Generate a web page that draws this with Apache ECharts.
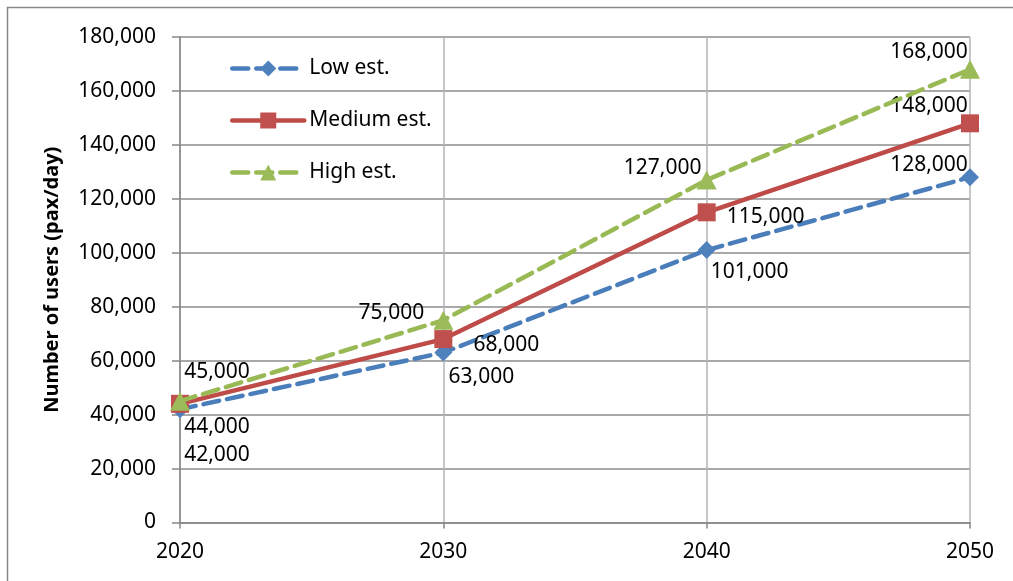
<!DOCTYPE html>
<html>
<head>
<meta charset="utf-8">
<script src="https://cdn.jsdelivr.net/npm/echarts@6/dist/echarts.min.js"></script>
<style>
  html, body { margin: 0; padding: 0; background: #fff; }
  #chart { width: 1013px; height: 581px; }
</style>
</head>
<body>
<div id="chart"></div>
<script>
// Projected daily users by scenario
const years = [2020, 2030, 2040, 2050];
const lowEst = [42000, 63000, 101000, 128000];
const mediumEst = [44000, 68000, 115000, 148000];
const highEst = [45000, 75000, 127000, 168000];
const seriesNames = ['Low est.', 'Medium est.', 'High est.'];
const yAxisTitle = 'Number of users (pax/day)';

// Per-point label placement (pixel offsets from each marker centre)
const labelOffsets = {
  low:    [[37, 46], [38, 24], [43, 22], [-41, -12]],
  medium: [[37, 23], [63, 6], [59, 5], [-41, -17]],
  high:   [[37, -29], [-52, -7], [-44, -12], [-41, -17]]
};

const FONT = '"Noto Sans", "Open Sans", sans-serif';
const fmt = v => v.toLocaleString('en-US');

function buildData(values, offsets) {
  return values.map((v, i) => ({
    value: [years[i], v],
    label: { offset: offsets[i] }
  }));
}

const labelStyle = {
  show: true,
  position: 'inside',
  align: 'center',
  verticalAlign: 'middle',
  color: '#000',
  fontFamily: FONT,
  fontSize: 21,
  formatter: p => fmt(p.value[1])
};

const chart = echarts.init(document.getElementById('chart'), null, { renderer: 'canvas' });

chart.setOption({
  animation: false,
  backgroundColor: '#fff',
  graphic: [{
    type: 'rect',
    shape: { x: 7.5, y: 7.5, width: 1200, height: 800 },
    style: { fill: 'none', stroke: '#868686', lineWidth: 1.5 },
    silent: true,
    z: -10
  }],
  grid: { left: 180, right: 43, top: 37, bottom: 58.5, containLabel: false },
  legend: {
    orient: 'vertical',
    left: 225,
    top: 53,
    itemWidth: 72,
    itemHeight: 20,
    itemGap: 31,
    lineStyle: { width: 4.5, cap: 'round' },
    textStyle: { fontFamily: FONT, fontSize: 21, color: '#000' },
    data: seriesNames
  },
  xAxis: {
    type: 'value',
    min: 2020,
    max: 2050,
    interval: 10,
    axisLine: { show: true, lineStyle: { color: '#868686', width: 1.5 } },
    axisTick: { show: true, length: 6, lineStyle: { color: '#868686', width: 1.5 } },
    axisLabel: { margin: 19, color: '#000', fontFamily: FONT, fontSize: 21, formatter: v => String(v) },
    splitLine: { show: true, lineStyle: { color: '#b4b4b4', width: 1.5 } }
  },
  yAxis: {
    type: 'value',
    min: 0,
    max: 180000,
    interval: 20000,
    name: yAxisTitle,
    nameLocation: 'middle',
    nameGap: 118,
    nameTextStyle: { fontFamily: FONT, fontSize: 20, fontWeight: 'bold', color: '#000' },
    axisLine: { show: true, lineStyle: { color: '#868686', width: 1.5 } },
    axisTick: { show: true, length: 8, lineStyle: { color: '#868686', width: 1.5 } },
    axisLabel: { margin: 24, color: '#000', fontFamily: FONT, fontSize: 21, formatter: v => fmt(v) },
    splitLine: { show: true, lineStyle: { color: '#8c8c8c', width: 1.5 } }
  },
  series: [
    {
      name: seriesNames[0],
      type: 'line',
      data: buildData(lowEst, labelOffsets.low),
      symbol: 'diamond',
      symbolSize: 18,
      itemStyle: { color: '#4f81bd' },
      lineStyle: { color: '#4a7ebb', width: 4.5, type: [16, 8], cap: 'round' },
      label: labelStyle,
      z: 2
    },
    {
      name: seriesNames[1],
      type: 'line',
      data: buildData(mediumEst, labelOffsets.medium),
      symbol: 'rect',
      symbolSize: 18,
      itemStyle: { color: '#c0504d' },
      lineStyle: { color: '#be4b48', width: 4.5, type: 'solid' },
      label: labelStyle,
      z: 3
    },
    {
      name: seriesNames[2],
      type: 'line',
      data: buildData(highEst, labelOffsets.high),
      symbol: 'triangle',
      symbolSize: [20, 19],
      itemStyle: { color: '#9bbb59' },
      lineStyle: { color: '#98b954', width: 4.5, type: [16, 8], cap: 'round' },
      label: labelStyle,
      z: 4
    }
  ]
});
</script>
</body>
</html>
